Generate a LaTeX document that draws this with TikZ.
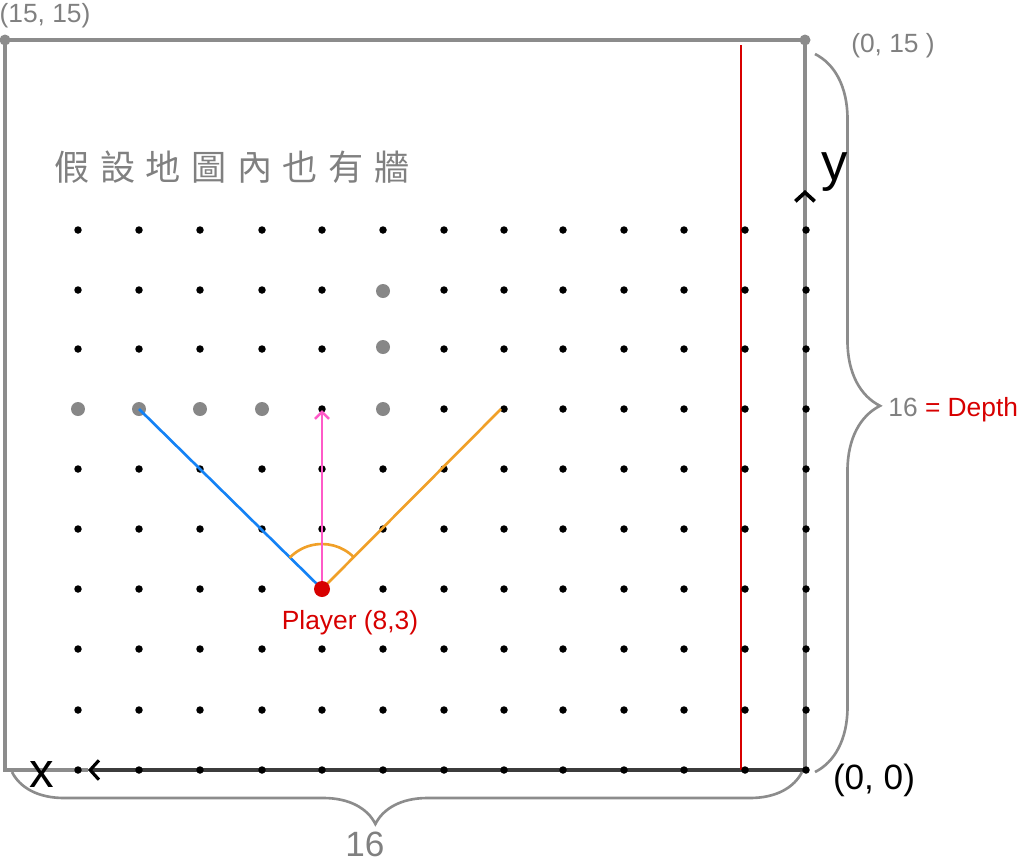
\documentclass[tikz,border=0pt]{standalone}
\usepackage{fontspec}
\setmainfont{Liberation Sans}
\newfontfamily\cjkfont{Noto Sans CJK TC}
\usetikzlibrary{decorations.pathreplacing,arrows.meta}
\definecolor{pengray}{RGB}{140,140,140}
\definecolor{wallgray}{RGB}{135,135,135}
\definecolor{textgray}{RGB}{128,128,128}
\definecolor{penred}{RGB}{215,0,0}
\definecolor{penblue}{RGB}{20,130,245}
\definecolor{penorange}{RGB}{240,160,40}
\definecolor{penpink}{RGB}{255,90,200}
\definecolor{axisdark}{RGB}{60,60,60}
\begin{document}
\begin{tikzpicture}[x=0.02cm,y=-0.02cm,
  frame/.style={draw=pengray,line width=2.1pt},
  bracestyle/.style={draw=pengray,line width=1.5pt,decorate},
  ray/.style={line width=1.5pt},
  lbl/.style={inner sep=0pt},
]
\useasboundingbox (0,0) rectangle (1024,866);
% frame
\coordinate (TL) at (5,40);
\coordinate (TR) at (805,40);
\coordinate (BR) at (805,770);
\coordinate (BL) at (5,770);
\coordinate (xhead) at (88,770);
\coordinate (yhead) at (805,190);
\draw[frame] (xhead) -- (BL) -- (TL) -- (TR) -- (BR);
\draw[line width=1.8pt,draw=axisdark,-{Straight Barb[length=5pt,width=11pt,color=black]}] (BR) -- (xhead);
\draw[frame,-{Straight Barb[length=5pt,width=11pt,color=black]}] (805,400) -- (yhead);
\fill[pengray] (TL) circle (0.11cm);
\fill[pengray] (TR) circle (0.11cm);
% red depth line
\draw[line width=1.4pt,draw=penred] (741,45) -- (741,770);
% grid dots
\foreach \x in {78,139,200,262,322,383,444,504,563,624,684,745,806}
  \foreach \y in {230,290,349,409,469,529,589,649,710,770}
    \fill (\x,\y) circle (0.075cm);
% wall dots
\foreach \p in {(78,409),(139,409),(200,409),(262,409),(383,409),(383,291),(383,347)}
  \fill[wallgray] \p circle (0.14cm);
% player and rays
\coordinate (player) at (322,589);
\coordinate (blueEnd) at (139,409);
\coordinate (pinkEnd) at (322,410);
\coordinate (orangeEnd) at (501,409);
\draw[ray,draw=penblue] (player) -- (blueEnd);
\draw[ray,draw=penorange] (player) -- (orangeEnd);
\draw[ray,draw=penorange] (player) ++(45:0.9cm) arc[start angle=45,end angle=136,radius=0.9cm];
\draw[ray,draw=penpink,-{Straight Barb[length=4pt,width=8pt]}] (player) -- (pinkEnd);
\fill[penred] (player) circle (0.16cm);
% braces
\draw[bracestyle,decoration={brace,amplitude=1.3cm,aspect=0.49}] (815,54) -- (815,772);
\draw[bracestyle,decoration={brace,amplitude=1.04cm,aspect=0.54}] (802,772) -- (12,772);
% texts
\node[lbl,text=textgray,font=\fontsize{15pt}{18pt}\selectfont] (c1515) at (45,16) {(15, 15)};
\node[lbl,text=textgray,font=\fontsize{15pt}{18pt}\selectfont] (c015) at (893,46) {(0, 15 )};
\node[lbl,text=black,font=\fontsize{20pt}{24pt}\selectfont] (c00) at (874,780) {(0, 0)};
\node[lbl,text=black,font=\fontsize{30pt}{36pt}\selectfont] (ylbl) at (835,172) {y};
\node[lbl,text=black,font=\fontsize{28pt}{34pt}\selectfont] (xlbl) at (42,774) {x};
\node[lbl,anchor=west,font=\fontsize{15pt}{18pt}\selectfont] (depth) at (888,410) {\textcolor{textgray}{16} \textcolor{penred}{= Depth}};
\node[lbl,text=textgray,font=\fontsize{20pt}{24pt}\selectfont] (width16) at (365,844) {16};
\node[lbl,text=penred,font=\fontsize{15pt}{18pt}\selectfont] (plbl) at (350,623) {Player (8,3)};
\node[lbl,text=textgray,font=\cjkfont\fontsize{20pt}{24pt}\selectfont] (note) at (232,167)
  {假\hspace{6pt}設\hspace{6pt}地\hspace{6pt}圖\hspace{6pt}內\hspace{6pt}也\hspace{6pt}有\hspace{6pt}牆};
\end{tikzpicture}
\end{document}
